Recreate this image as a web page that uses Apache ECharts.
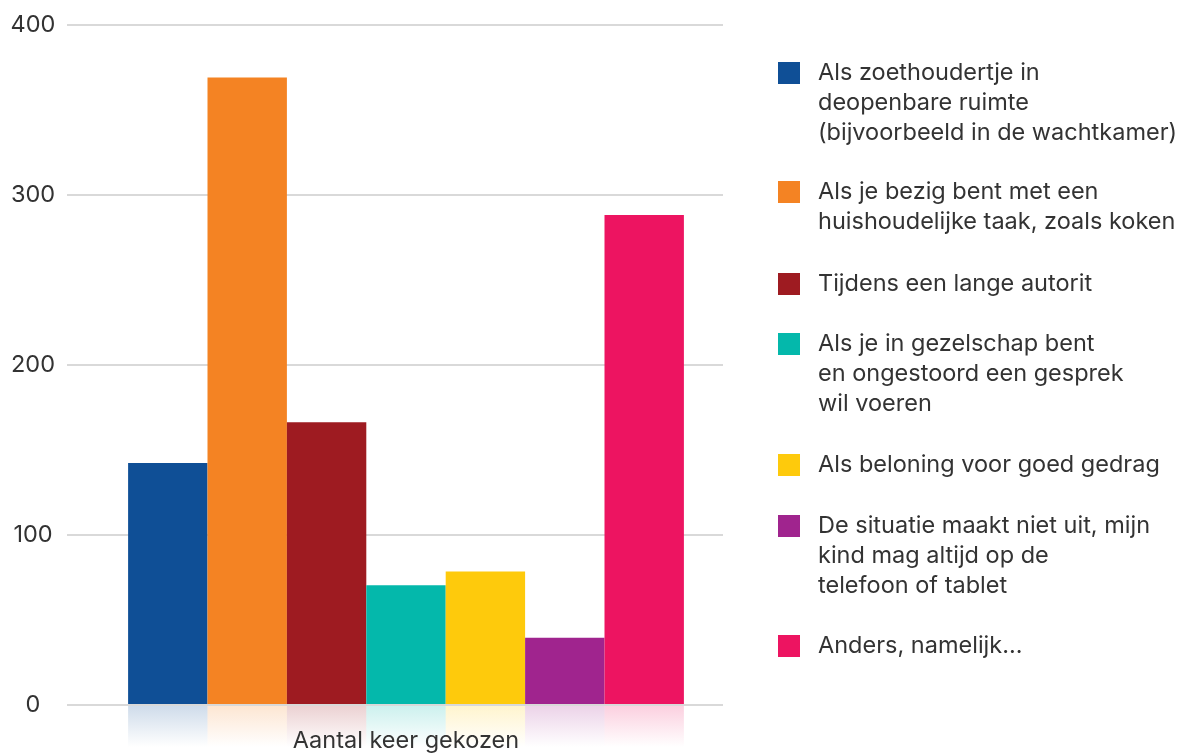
<!DOCTYPE html>
<html>
<head>
<meta charset="utf-8">
<script src="https://cdn.jsdelivr.net/npm/echarts@6/dist/echarts.min.js"></script>
<style>html,body{margin:0;padding:0;background:#fff}#c{width:1189px;height:753px}</style>
</head>
<body>
<div id="c"></div>
<script>
// ---- data ----
const categories = ['Aantal keer gekozen'];
const seriesNames = [
  'Als zoethoudertje in\ndeopenbare ruimte\n(bijvoorbeeld in de wachtkamer)',
  'Als je bezig bent met een\nhuishoudelijke taak, zoals koken',
  'Tijdens een lange autorit',
  'Als je in gezelschap bent\nen ongestoord een gesprek\nwil voeren',
  'Als beloning voor goed gedrag',
  'De situatie maakt niet uit, mijn\nkind mag altijd op de\ntelefoon of tablet',
  'Anders, namelijk...'
];
const values = [142, 369, 166, 70, 78, 39, 288];
const yTicks = [0, 100, 200, 300, 400];

// ---- styles ----
const palette = ['#0f4f96', '#f48323', '#9e1b21', '#04b8ab', '#feca0c', '#a0248e', '#ed1461'];
const FONT = 'Inter, "Noto Sans", sans-serif';
const FS = 23.5;
const TXT = '#333333';

function hexA(hex, a) {
  const r = parseInt(hex.slice(1,3),16), g = parseInt(hex.slice(3,5),16), b = parseInt(hex.slice(5,7),16);
  return 'rgba(' + r + ',' + g + ',' + b + ',' + a + ')';
}

const chart = echarts.init(document.getElementById('c'), null, {renderer: 'canvas'});

const barSeries = seriesNames.map((n, i) => ({
  name: n, type: 'bar', xAxisIndex: 1, yAxisIndex: 1,
  data: [values[i]], barWidth: 79.4, barGap: '0%',
  itemStyle: {color: palette[i]}, z: 3
}));
const reflSeries = seriesNames.map((n, i) => ({
  name: n + '_r', type: 'bar', xAxisIndex: 2, yAxisIndex: 2,
  data: [values[i]], barWidth: 79.4, barGap: '0%', clip: true, silent: true,
  itemStyle: {color: {type: 'linear', x: 0, y: 706, x2: 0, y2: 747, global: true,
    colorStops: [{offset: 0, color: hexA(palette[i], 0.2)}, {offset: 1, color: hexA(palette[i], 0)}]}},
  z: 1
}));

// legend drawn from the names/colours
const legendCenters = [73, 192, 284, 344, 465, 526, 646];
const legendGraphics = [];
seriesNames.forEach((n, i) => {
  const c = legendCenters[i];
  legendGraphics.push({type: 'rect', left: 778, top: c - 11, shape: {width: 22, height: 22}, style: {fill: palette[i]}});
  legendGraphics.push({type: 'text', left: 818, top: c - 15, style: {text: n, font: FS + 'px ' + FONT, fill: TXT, lineHeight: 30}});
});

chart.setOption({
  animation: false,
  backgroundColor: '#ffffff',
  grid: [
    {left: 67, width: 656, top: 25, height: 680},
    {left: 67, width: 678, top: 25, height: 680},
    {left: 67, width: 678, top: 706, height: 47}
  ],
  xAxis: [
    {gridIndex: 0, type: 'category', data: categories, show: false},
    {gridIndex: 1, type: 'category', data: categories, z: 10,
      axisLine: {show: false}, axisTick: {show: false},
      axisLabel: {margin: 25, fontSize: FS, fontFamily: FONT, color: TXT}},
    {gridIndex: 2, type: 'category', data: categories, show: false}
  ],
  yAxis: [
    {gridIndex: 0, type: 'value', min: yTicks[0], max: yTicks[yTicks.length - 1], interval: 100,
      axisLine: {show: false}, axisTick: {show: false},
      axisLabel: {margin: 34, align: 'center', fontSize: FS, fontFamily: FONT, color: TXT,
        formatter: v => yTicks.includes(v) ? String(v) : ''},
      splitLine: {lineStyle: {color: '#d9d9d9', width: 2}}},
    {gridIndex: 1, type: 'value', min: 0, max: 400, show: false, splitLine: {show: false}},
    {gridIndex: 2, type: 'value', min: 0, max: 27.6, inverse: true, show: false, splitLine: {show: false}}
  ],
  series: barSeries.concat(reflSeries),
  graphic: legendGraphics
});
</script>
</body>
</html>
